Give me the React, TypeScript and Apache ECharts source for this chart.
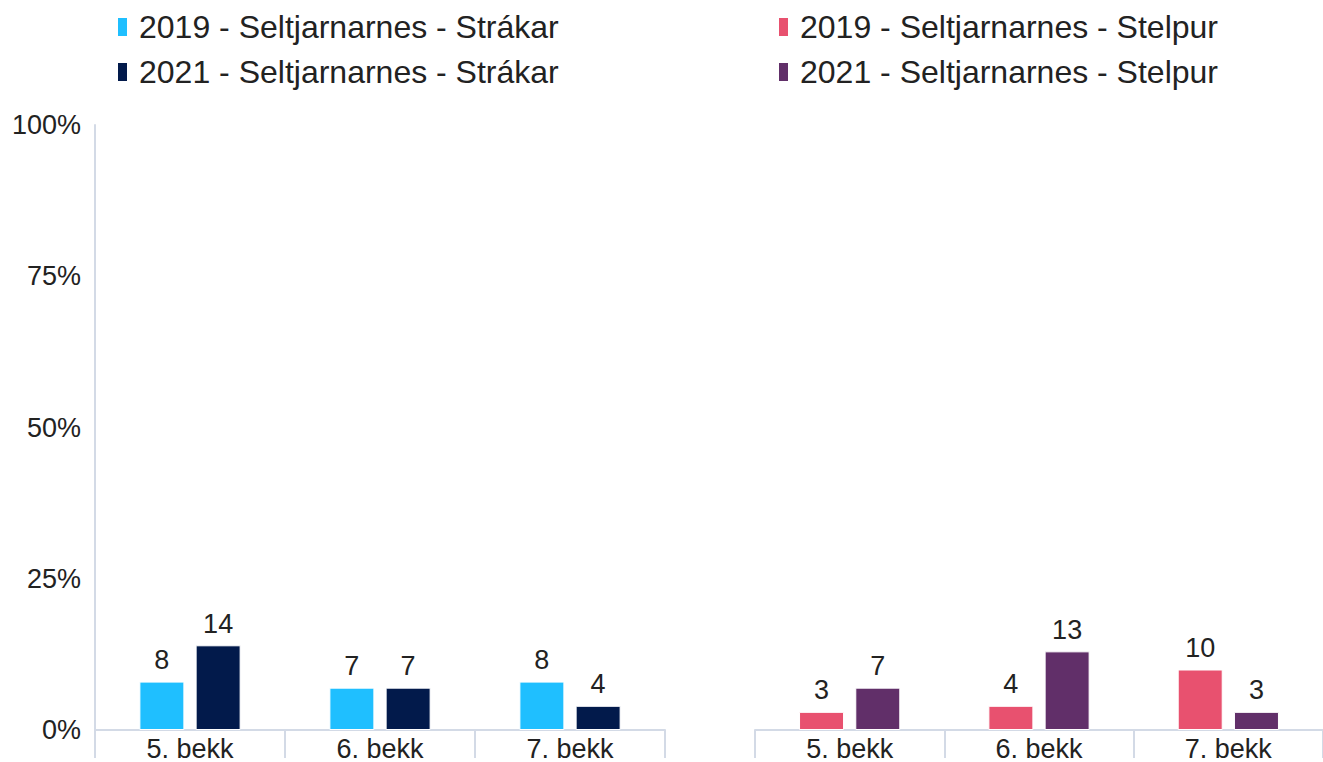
import React, { useEffect, useRef } from "react";
import * as echarts from "echarts";

const categories = ["5. bekk", "6. bekk", "7. bekk"];
const yTicks = [0, 25, 50, 75, 100];
const boys2019 = [8, 7, 8];
const boys2021 = [14, 7, 4];
const girls2019 = [3, 4, 10];
const girls2021 = [7, 13, 3];
const seriesNames = [
  "2019 - Seltjarnarnes - Strákar",
  "2021 - Seltjarnarnes - Strákar",
  "2019 - Seltjarnarnes - Stelpur",
  "2021 - Seltjarnarnes - Stelpur",
];
const colors = ["#1FBFFF", "#021A4B", "#E8516F", "#612F69"];

const FONT = "Liberation Sans, Arial, sans-serif";
const AXIS_COLOR = "#D3DAE6";

export default function App() {
  const ref = useRef<HTMLDivElement>(null);
  useEffect(() => {
    if (!ref.current) return;
    const chart = echarts.init(ref.current, undefined, { renderer: "svg" });
    const xAxisBase = (gridIndex: number) => ({
      type: "category" as const,
      gridIndex,
      data: categories,
      boundaryGap: true,
      axisLine: { show: true, lineStyle: { color: AXIS_COLOR, width: 2 } },
      axisTick: { show: true, length: 28, lineStyle: { color: AXIS_COLOR, width: 2 } },
      axisLabel: { fontSize: 27, color: "#222", fontFamily: FONT, margin: 5 },
    });
    const bar = (name: string, data: number[], idx: number, color: string) => ({
      name,
      type: "bar" as const,
      xAxisIndex: idx,
      yAxisIndex: idx,
      data,
      barWidth: 45,
      barGap: "25%",
      itemStyle: { color, borderColor: "#ffffff", borderWidth: 1 },
      label: {
        show: true,
        position: "top" as const,
        distance: 8,
        fontSize: 27,
        color: "#222",
        fontFamily: FONT,
      },
    });
    const legendBase = {
      orient: "vertical" as const,
      top: 5,
      itemWidth: 11,
      itemHeight: 20,
      itemGap: 11,
      icon: "rect",
      selectedMode: false,
      textStyle: {
        fontSize: 32,
        color: "#222",
        fontFamily: FONT,
        lineHeight: 34,
        padding: [0, 0, 0, 6],
      },
    };
    chart.setOption({
      animation: false,
      color: colors,
      textStyle: { fontFamily: FONT },
      legend: [
        { ...legendBase, left: 111, data: [seriesNames[0], seriesNames[1]] },
        { ...legendBase, left: 772, data: [seriesNames[2], seriesNames[3]] },
      ],
      grid: [
        { left: 95, width: 570, top: 125, bottom: 29 },
        { left: 755, width: 570, top: 125, bottom: 29 },
      ],
      xAxis: [xAxisBase(0), xAxisBase(1)],
      yAxis: [
        {
          type: "value",
          gridIndex: 0,
          min: yTicks[0],
          max: yTicks[yTicks.length - 1],
          interval: 25,
          axisLine: { show: true, lineStyle: { color: AXIS_COLOR, width: 2 } },
          axisTick: { show: false },
          splitLine: { show: false },
          axisLabel: {
            formatter: "{value}%",
            fontSize: 27,
            color: "#222",
            fontFamily: FONT,
            margin: 14,
          },
        },
        {
          type: "value",
          gridIndex: 1,
          min: yTicks[0],
          max: yTicks[yTicks.length - 1],
          interval: 25,
          show: false,
          splitLine: { show: false },
        },
      ],
      series: [
        bar(seriesNames[0], boys2019, 0, colors[0]),
        bar(seriesNames[1], boys2021, 0, colors[1]),
        bar(seriesNames[2], girls2019, 1, colors[2]),
        bar(seriesNames[3], girls2021, 1, colors[3]),
      ],
    });
    return () => chart.dispose();
  }, []);
  return (
    <div
      ref={ref}
      style={{ position: "fixed", left: 0, top: 0, width: 1323, height: 762, background: "#fff" }}
    />
  );
}
